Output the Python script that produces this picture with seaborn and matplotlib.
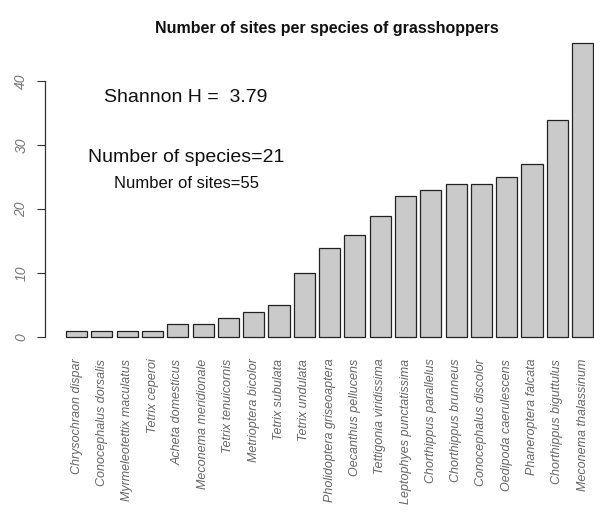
import matplotlib
matplotlib.use("Agg")
import matplotlib.pyplot as plt
import seaborn as sns
import pandas as pd

species = [
    "Chrysochraon dispar", "Conocephalus dorsalis", "Myrmeleotettix maculatus",
    "Tetrix ceperoi", "Acheta domesticus", "Meconema meridionale",
    "Tetrix tenuicornis", "Metrioptera bicolor", "Tetrix subulata",
    "Tetrix undulata", "Pholidoptera griseoaptera", "Oecanthus pellucens",
    "Tettigonia viridissima", "Leptophyes punctatissima", "Chorthippus parallelus",
    "Chorthippus brunneus", "Conocephalus discolor", "Oedipoda caerulescens",
    "Phaneroptera falcata", "Chorthippus biguttulus", "Meconema thalassinum",
]
sites = [1, 1, 1, 1, 2, 2, 3, 4, 5, 10, 14, 16, 19, 22, 23, 24, 24, 25, 27, 34, 46]
yticks = [0, 10, 20, 30, 40]

df = pd.DataFrame({"species": species, "sites": sites})

sns.set_theme(style="white")
plt.rcParams["font.family"] = ["Liberation Sans", "DejaVu Sans"]

fig = plt.figure(figsize=(5.94, 5.12), dpi=100)
ax = fig.add_axes([45 / 594, 1 - 349 / 512, 1 - 45 / 594, 318 / 512])

sns.barplot(data=df, x="species", y="sites", order=species, color="#cacaca",
            saturation=1, width=0.833, edgecolor="#222222", linewidth=0.9, ax=ax)

ax.set_xlim(-1.25, 20.45)
ax.set_ylim(-1.84, 47.84)
ax.set_xlabel("")
ax.set_ylabel("")

for s in ["top", "right", "bottom"]:
    ax.spines[s].set_visible(False)
ax.spines["left"].set_bounds(0, 40)
ax.spines["left"].set_color("#333333")
ax.spines["left"].set_linewidth(0.9)

ax.set_yticks(yticks)
ax.set_yticklabels([str(v) for v in yticks], rotation=90, va="center",
                   fontsize=10, color="#777777", style="italic")
ax.tick_params(axis="y", left=True, length=6, width=0.8, color="#333333", pad=6)
ax.tick_params(axis="x", bottom=False, length=0, pad=7)
ax.set_xticks(range(len(species)))
ax.set_xticklabels(species, rotation=90, ha="center", va="top",
                   fontsize=9, color="#666666", style="italic")

fig.text(327 / 594, 1 - 28 / 512, "Number of sites per species of grasshoppers",
         ha="center", va="center", fontsize=11.5, fontweight="bold", color="#111111")
fig.text(186 / 594, 1 - 97 / 512, "Shannon H =  3.79", ha="center", va="center",
         fontsize=14, color="#111111")
fig.text(186 / 594, 1 - 157 / 512, "Number of species=21", ha="center", va="center",
         fontsize=14, color="#111111")
fig.text(186 / 594, 1 - 184 / 512, "Number of sites=55", ha="center", va="center",
         fontsize=12, color="#111111")

fig.savefig("out.png", dpi=100)
